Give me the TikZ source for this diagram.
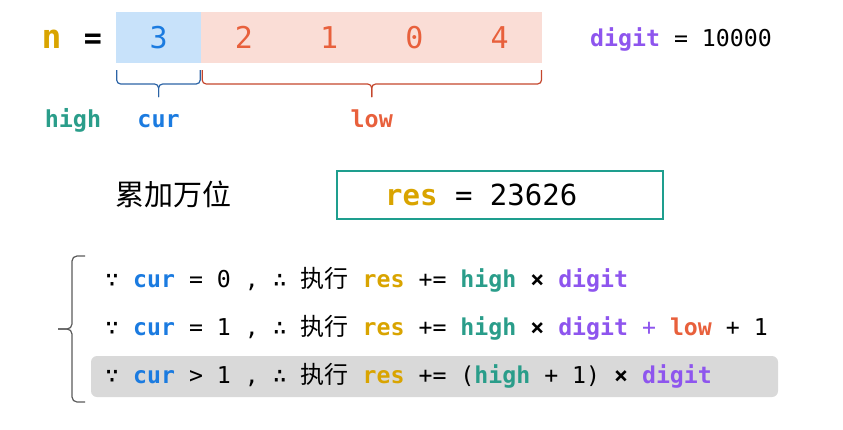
\documentclass[tikz,border=0pt]{standalone}
\usepackage{fontspec}
\setmonofont{DejaVu Sans Mono}
\newfontfamily\cjk{Noto Sans CJK SC}
\usetikzlibrary{positioning, calc}

\definecolor{resgold}{HTML}{D9A400}
\definecolor{curblue}{HTML}{1B7BE0}
\definecolor{highteal}{HTML}{2A9D8A}
\definecolor{lowred}{HTML}{E8603C}
\definecolor{digitpurple}{HTML}{8E55EE}
\definecolor{curfill}{HTML}{C8E2FA}
\definecolor{lowfill}{HTML}{FADDD6}
\definecolor{curbrace}{HTML}{2C64A6}
\definecolor{lowbrace}{HTML}{C4462C}
\definecolor{boxteal}{HTML}{1E9E8E}
\definecolor{rowgray}{HTML}{D9D9D9}
\definecolor{bracegray}{HTML}{5A5A5A}

\newcommand{\kwres}{\textcolor{resgold}{\textbf{res}}}
\newcommand{\kwcur}{\textcolor{curblue}{\textbf{cur}}}
\newcommand{\kwhigh}{\textcolor{highteal}{\textbf{high}}}
\newcommand{\kwlow}{\textcolor{lowred}{\textbf{low}}}
\newcommand{\kwdigit}{\textcolor{digitpurple}{\textbf{digit}}}
\newcommand{\zhi}{{\cjk\fontsize{24}{28}\selectfont 执行}}

\begin{document}
\begin{tikzpicture}[
    x=1pt, y=-1pt,
    cell/.style={rectangle, inner sep=0pt, outer sep=0pt, minimum width=85.25pt, minimum height=51pt, font=\ttfamily\fontsize{30}{34}\selectfont},
    curcell/.style={cell, fill=curfill, text=curblue},
    lowcell/.style={cell, fill=lowfill, text=lowred},
    lbl/.style={anchor=base, inner sep=0pt, font=\ttfamily\bfseries\fontsize{23.4}{28}\selectfont},
    line/.style={anchor=base west, inner sep=0pt, font=\ttfamily\fontsize{23.2}{28}\selectfont},
    brace/.style={line width=1.2pt, rounded corners=4pt},
    node distance=0pt
]
\useasboundingbox (0,0) rectangle (843,429);

% Number n
\node[anchor=base, inner sep=0pt, text=resgold, font=\ttfamily\bfseries\fontsize{33}{36}\selectfont] (nname) at (51.5,48) {n};
\node[anchor=base, inner sep=0pt, font=\ttfamily\bfseries\fontsize{30}{34}\selectfont] (neq) at (93,48) {=};
\node[curcell] (cell0) at (158.6,37.5) {3};
\node[lowcell, right=of cell0] (cell1) {2};
\node[lowcell, right=of cell1] (cell2) {1};
\node[lowcell, right=of cell2] (cell3) {0};
\node[lowcell, right=of cell3] (cell4) {4};
\node[line] (digit) at (590,46) {\kwdigit{} = 10000};

% Braces
\coordinate (lowmid) at ($(cell1.south west)!0.5!(cell4.south east)$);
\draw[brace, curbrace] ([xshift=0.7pt, yshift=-7pt]cell0.south west) |- ([yshift=-21pt]cell0.south) -- ([yshift=-34pt]cell0.south);
\draw[brace, curbrace] ([xshift=-1pt, yshift=-7pt]cell0.south east) |- ([yshift=-21pt]cell0.south) -- ([yshift=-34pt]cell0.south);
\draw[brace, lowbrace] ([xshift=1pt, yshift=-7pt]cell1.south west) |- ([yshift=-21pt]lowmid) -- ([yshift=-34pt]lowmid);
\draw[brace, lowbrace] ([xshift=-0.7pt, yshift=-7pt]cell4.south east) |- ([yshift=-21pt]lowmid) -- ([yshift=-34pt]lowmid);

% Labels
\node[lbl, text=highteal] (high) at (73,127) {high};
\node[lbl, text=curblue] (cur) at (158.6,127) {cur};
\node[lbl, text=lowred] (low) at (lowmid |- 0,127) {low};

% Result
\node[anchor=base west, inner sep=0pt, font=\cjk\fontsize{29}{32}\selectfont] (title) at (115,205) {累加万位};
\node[draw=boxteal, line width=1.5pt, minimum width=326pt, minimum height=48pt, inner sep=0pt] (resbox) at (500,195) {};
\node[anchor=base west, inner sep=0pt, font=\ttfamily\fontsize{29}{32}\selectfont] (resval) at (385,205) {\kwres{} = 23626};

% Cases
\fill[rowgray, rounded corners=6pt] (91,356) rectangle (778,397);
\draw[bracegray, line width=1.2pt, rounded corners=5pt] (85,256) -| (72,329) -- (58,329);
\draw[bracegray, line width=1.2pt, rounded corners=5pt] (85,402) -| (72,329) -- (58,329);
\node[line] (case0) at (105,287) {∵ \kwcur{} = 0 , ∴ \zhi{} \kwres{} += \kwhigh{} \textbf{×} \kwdigit};
\node[line] (case1) at (105,335) {∵ \kwcur{} = 1 , ∴ \zhi{} \kwres{} += \kwhigh{} \textbf{×} \kwdigit{} \textcolor{digitpurple}{+} \kwlow{} + 1};
\node[line] (case2) at (105,383) {∵ \kwcur{} > 1 , ∴ \zhi{} \kwres{} += (\kwhigh{} + 1) \textbf{×} \kwdigit};

\end{tikzpicture}
\end{document}
